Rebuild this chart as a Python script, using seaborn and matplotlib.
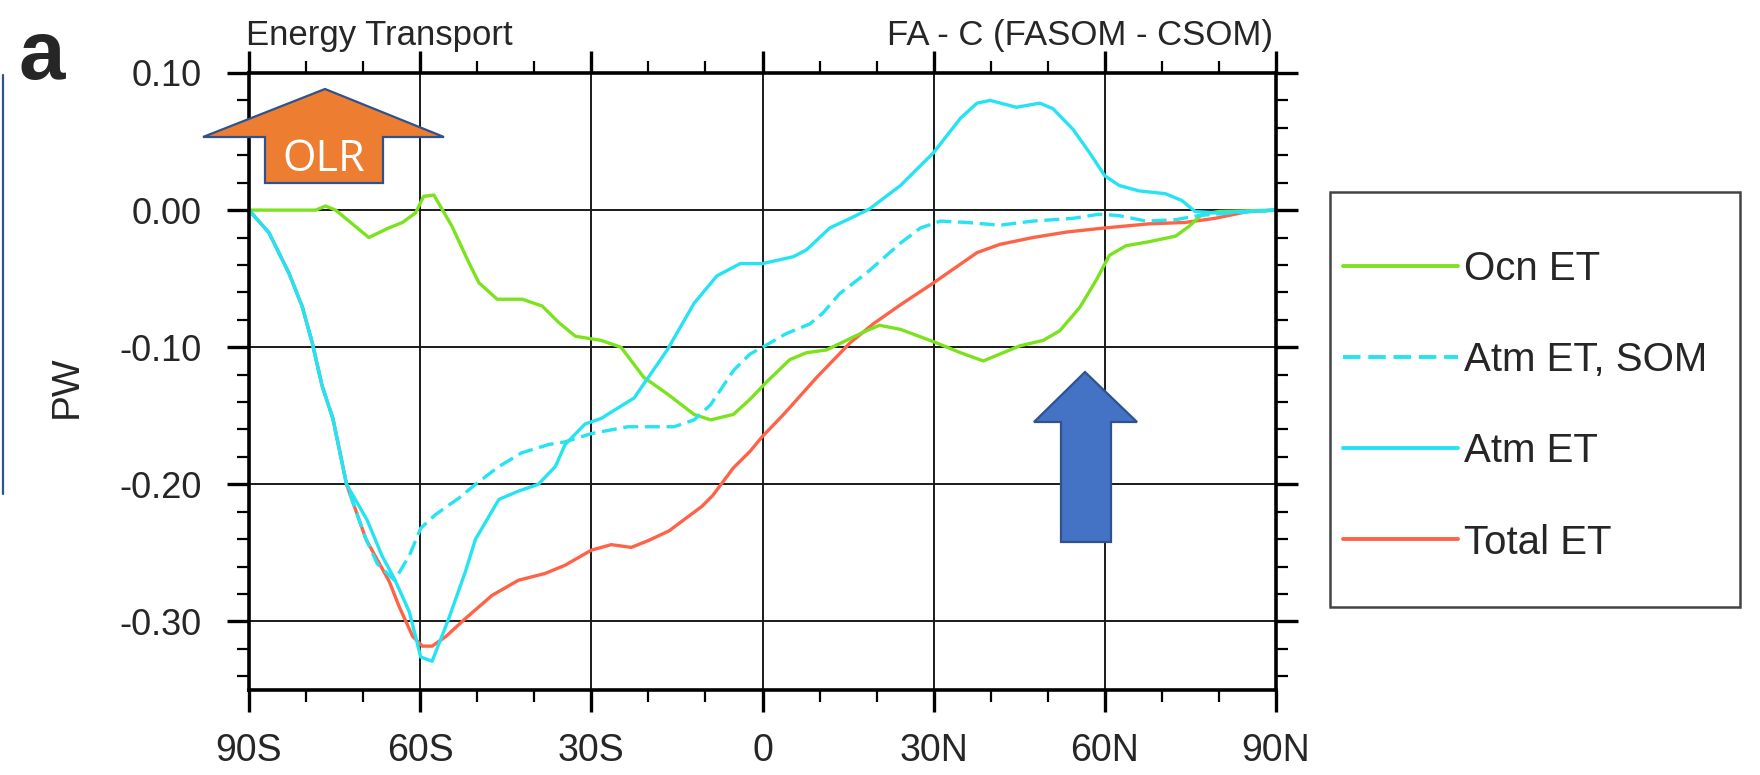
import numpy as np
import pandas as pd
import matplotlib
matplotlib.use("Agg")
import matplotlib.pyplot as plt
import seaborn as sns
from matplotlib.patches import Polygon, Rectangle
from matplotlib.lines import Line2D
from matplotlib.ticker import MultipleLocator

# ---------------- data ----------------
ocn_lat = [-90, -78.3, -76.6, -74.8, -69, -65.5, -63.1, -60.8, -59.4, -57.6, -54.4, -51.5,
           -49.7, -46.5, -42.1, -38.6, -35.7, -32.8, -28.3, -24.8, -20.8, -16.7, -12, -9.1,
           -5.1, -2.2, 0.8, 4.8, 7.7, 11.2, 14.7, 18.2, 20.5, 24.2, 30, 34.7, 38.7, 41.6,
           45.1, 49.2, 52.1, 55.6, 58.5, 60.8, 63.7, 67.8, 72.4, 74.7, 77.1, 80, 90]
ocn_val = [0, 0, 0.003, 0.0, -0.020, -0.013, -0.009, -0.002, 0.010, 0.011, -0.012, -0.038,
           -0.053, -0.065, -0.065, -0.070, -0.082, -0.092, -0.095, -0.100, -0.122, -0.134,
           -0.149, -0.153, -0.149, -0.138, -0.125, -0.109, -0.104, -0.102, -0.095, -0.088,
           -0.084, -0.087, -0.096, -0.104, -0.110, -0.105, -0.099, -0.095, -0.088, -0.071,
           -0.051, -0.033, -0.026, -0.023, -0.019, -0.012, -0.003, -0.001, 0]

atm_lat = [-90, -86.5, -83, -80.7, -78.9, -77.2, -75.3, -72.9, -69.3, -66.7, -64.5, -61.9,
           -59.9, -57.9, -55, -52.1, -50.3, -46.2, -42.8, -39.3, -36.3, -34.6, -31.1, -28.3,
           -22.5, -16.7, -12, -8, -3.9, 0, 5.4, 7.7, 11.8, 15.9, 18.8, 24.2, 30, 34.7, 37.6,
           39.9, 44.5, 48.6, 50.9, 54.4, 57.3, 60, 62.5, 66, 70.6, 73.5, 75.8, 79.3, 85.1, 90]
atm_val = [0, -0.0165, -0.046, -0.070, -0.097, -0.128, -0.152, -0.200, -0.226, -0.252,
           -0.269, -0.293, -0.326, -0.329, -0.298, -0.264, -0.240, -0.211, -0.205, -0.200,
           -0.187, -0.171, -0.156, -0.152, -0.137, -0.102, -0.068, -0.048, -0.039, -0.039,
           -0.034, -0.029, -0.013, -0.005, 0.001, 0.018, 0.042, 0.067, 0.078, 0.080, 0.075,
           0.078, 0.074, 0.059, 0.042, 0.025, 0.018, 0.014, 0.012, 0.007, -0.001, -0.002,
           -0.001, 0]

som_lat = [-90, -86.5, -83, -80.7, -78.9, -77.2, -75.3, -72.9, -69.5, -67.5, -64.5, -61.9,
           -59.9, -57.3, -53.2, -50.3, -46.2, -42.2, -37.5, -34.6, -30, -23.6, -15.5, -12,
           -9.1, -5.1, -2.2, 0, 4.2, 8.3, 10.6, 13.5, 18.2, 24.2, 27.7, 31.2, 35.8, 41.6,
           47.4, 54.4, 59, 62.5, 67.2, 72.4, 76.4, 82.2, 90]
som_val = [0, -0.0165, -0.046, -0.070, -0.097, -0.128, -0.152, -0.200, -0.240, -0.258,
           -0.270, -0.252, -0.232, -0.222, -0.210, -0.200, -0.187, -0.177, -0.171, -0.169,
           -0.163, -0.158, -0.158, -0.153, -0.142, -0.117, -0.105, -0.100, -0.090, -0.083,
           -0.075, -0.061, -0.046, -0.024, -0.013, -0.008, -0.009, -0.011, -0.008, -0.006,
           -0.003, -0.004, -0.008, -0.007, -0.004, -0.002, 0]

tot_lat = [-90, -86.5, -83, -80.7, -78.9, -77.2, -75.3, -72.9, -69.5, -65.4, -63.7, -61.3,
           -59.6, -57.9, -55.5, -52.1, -47.4, -42.8, -38.1, -34.6, -30, -26.5, -23, -20,
           -16.4, -10.6, -8.7, -5.1, -2.2, 0, 3.7, 9.5, 15.3, 19.4, 24.2, 30, 37.6, 41.6,
           47.4, 53.3, 60, 67.8, 74.1, 79.3, 85.1, 90]
tot_val = [0, -0.0165, -0.046, -0.070, -0.097, -0.128, -0.152, -0.200, -0.240, -0.271,
           -0.289, -0.311, -0.318, -0.318, -0.311, -0.298, -0.281, -0.270, -0.265, -0.259,
           -0.248, -0.244, -0.246, -0.241, -0.234, -0.216, -0.208, -0.188, -0.176, -0.165,
           -0.149, -0.122, -0.097, -0.083, -0.069, -0.053, -0.031, -0.025, -0.020, -0.016,
           -0.013, -0.010, -0.009, -0.006, -0.001, 0]

series_names = ["Ocn ET", "Atm ET, SOM", "Atm ET", "Total ET"]
x_ticks = [-90, -60, -30, 0, 30, 60, 90]
x_tick_labels = ["90S", "60S", "30S", "0", "30N", "60N", "90N"]
y_ticks = [0.10, 0.00, -0.10, -0.20, -0.30]
y_tick_labels = ["0.10", "0.00", "-0.10", "-0.20", "-0.30"]

# ---------------- style ----------------
sns.set_style("white")
plt.rcParams["font.family"] = ["Liberation Sans", "DejaVu Sans"]

W, H = 1760, 775
def fx(x):
    return x / W
def fy(y):
    return 1 - y / H

fig = plt.figure(figsize=(W / 100, H / 100), dpi=100)
ax = fig.add_axes([fx(249), fy(690), (1276 - 249) / W, (690 - 73) / H])

frames = []
for name, la, va in zip(series_names,
                        [ocn_lat, som_lat, atm_lat, tot_lat],
                        [ocn_val, som_val, atm_val, tot_val]):
    frames.append(pd.DataFrame({"lat": la, "PW": va, "series": name}))
df = pd.concat(frames, ignore_index=True)

palette = {"Ocn ET": "#7BE31E", "Atm ET, SOM": "#25E3F2", "Atm ET": "#25E3F2", "Total ET": "#FF6347"}
dashes = {"Ocn ET": "", "Atm ET, SOM": (4.5, 2.0), "Atm ET": "", "Total ET": ""}
draw_order = ["Total ET", "Ocn ET", "Atm ET, SOM", "Atm ET"]

sns.lineplot(data=df, x="lat", y="PW", hue="series", style="series",
             hue_order=draw_order, style_order=draw_order,
             palette=palette, dashes=dashes, estimator=None, sort=False,
             linewidth=2.4, ax=ax, legend=False)

ax.set_xlim(-90, 90)
ax.set_ylim(-0.35, 0.10)
ax.set_xticks(x_ticks)
ax.set_xticklabels(x_tick_labels)
ax.set_yticks(y_ticks)
ax.set_yticklabels(y_tick_labels)
ax.xaxis.set_minor_locator(MultipleLocator(10))
ax.yaxis.set_minor_locator(MultipleLocator(0.02))
ax.set_xlabel("")
ax.set_ylabel("")

ax.grid(True, which="major", color="#1a1a1a", linewidth=1.4)
ax.set_axisbelow(True)
for s in ax.spines.values():
    s.set_visible(True)
    s.set_color("black")
    s.set_linewidth(2.6)

ax.tick_params(which="major", direction="out", length=16, width=2.4, color="black",
               top=True, right=True, bottom=True, left=True, labelsize=26, pad=18)
ax.tick_params(axis="x", which="major", labelsize=27, pad=15)
ax.tick_params(which="minor", direction="out", length=8.5, width=1.6, color="black",
               top=True, right=True, bottom=True, left=True)

# titles and labels
fig.text(fx(246), fy(35), "Energy Transport", fontsize=25, ha="left", va="center")
fig.text(fx(1273), fy(35), "FA - C (FASOM - CSOM)", fontsize=25, ha="right", va="center")
fig.text(fx(67), fy(387), "PW", fontsize=28, rotation=90, ha="center", va="center")
fig.text(fx(42), fy(57), "a", fontsize=60, fontweight="bold", ha="center", va="center")

# legend box + entries
fig.add_artist(Rectangle((fx(1330), fy(607)), (1740 - 1330) / W, (607 - 192) / H,
                         transform=fig.transFigure, fill=False, edgecolor="#444444",
                         linewidth=1.8, zorder=2))
handles = [Line2D([], [], color=palette[n], linewidth=2.8,
                  linestyle=(0, dashes[n]) if dashes[n] else "-") for n in series_names]
fig.legend(handles, series_names, loc="upper left",
           bbox_to_anchor=(fx(1343), fy(250)), bbox_transform=fig.transFigure,
           frameon=False, fontsize=29, handlelength=2.85, handletextpad=0.15,
           labelspacing=1.32, borderpad=0, borderaxespad=0)

# annotation arrows (overlaid shapes in the original)
def poly(pts, face, edge):
    p = Polygon([(fx(x), fy(y)) for x, y in pts], closed=True, transform=fig.transFigure,
                facecolor=face, edgecolor=edge, linewidth=1.6, zorder=3)
    fig.add_artist(p)

poly([(325, 89), (444, 137), (383, 137), (383, 183), (265, 183), (265, 137), (203, 137)],
     "#ED7D31", "#2F528F")
fig.text(fx(324), fy(160), "OLR", fontsize=31, color="white", ha="center", va="center",
         family=["Open Sans", "DejaVu Sans"], zorder=4)
poly([(1085, 372), (1137, 422), (1111, 422), (1111, 542), (1061, 542), (1061, 422), (1034, 422)],
     "#4472C4", "#2F528F")

fig.add_artist(Line2D([fx(2.5), fx(2.5)], [fy(75), fy(494)], transform=fig.transFigure,
                      color="#2F528F", linewidth=1.6))

fig.savefig("out.png", dpi=100)
